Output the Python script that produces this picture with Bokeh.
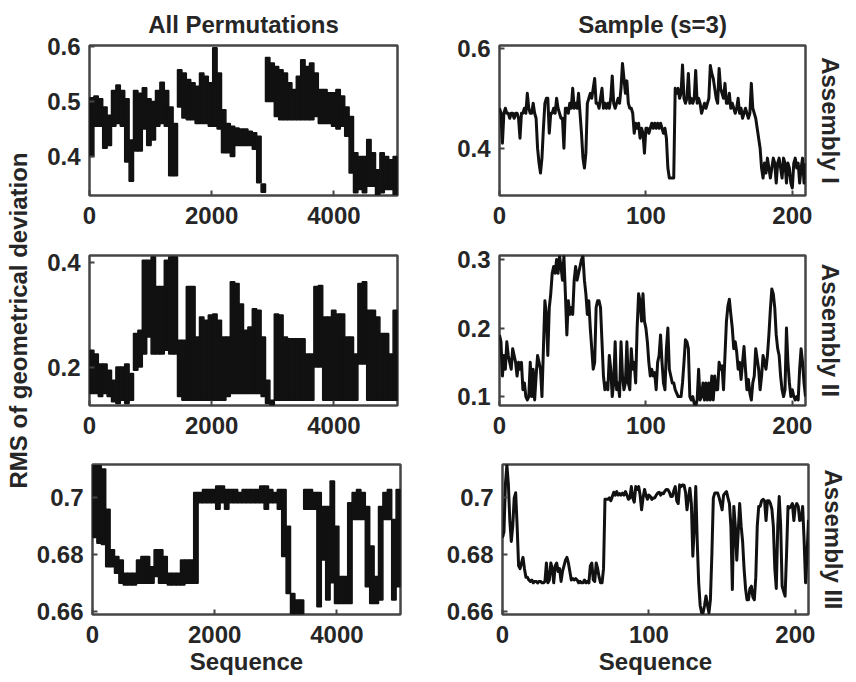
import numpy as np
from bokeh.plotting import figure
from bokeh.models import Range1d, FixedTicker, Title, Label
from bokeh.layouts import column, row
from bokeh.embed import file_html
from bokeh.resources import INLINE

# ---------------- data ----------------
col_titles = ["All Permutations", "Sample (s=3)"]
row_titles = ["Assembly I", "Assembly II", "Assembly III"]
y_title = "RMS of geometrical deviation"
x_title = "Sequence"

n_all = 5040          # all permutations
bin_width = 72        # envelope bin width (sequence units) for the full sequence
n_sample = 210        # sampled permutations

# Assembly I - all permutations: envelope (max / min) per bin
a1_hi = [0.507, 0.51, 0.505, 0.49, 0.475, 0.52, 0.53, 0.52, 0.505, 0.43,
         0.52, 0.515, 0.525, 0.505, 0.50, 0.52, 0.535, 0.52, 0.49, 0.46,
         0.558, 0.552, 0.54, 0.534, 0.528, 0.552, 0.546, 0.534, 0.598, 0.552,
         0.485, 0.46, 0.455, 0.452, 0.45, 0.45, 0.446, 0.443, 0.437, 0.35,
         0.58, 0.57, 0.564, 0.558, 0.552, 0.534, 0.522, 0.546, 0.576, 0.564,
         0.57, 0.552, 0.522, 0.522, 0.516, 0.516, 0.522, 0.51, 0.49, 0.473,
         0.407, 0.40, 0.40, 0.431, 0.407, 0.376, 0.407, 0.40, 0.394, 0.40]
a1_lo = [0.40, 0.455, 0.455, 0.415, 0.42, 0.455, 0.46, 0.455, 0.39, 0.355,
         0.41, 0.41, 0.45, 0.42, 0.43, 0.455, 0.46, 0.455, 0.365, 0.365,
         0.49, 0.47, 0.467, 0.467, 0.46, 0.46, 0.46, 0.455, 0.455, 0.45,
         0.407, 0.407, 0.40, 0.42, 0.42, 0.42, 0.42, 0.413, 0.352, 0.335,
         0.50, 0.50, 0.473, 0.467, 0.467, 0.467, 0.467, 0.467, 0.467, 0.467,
         0.467, 0.473, 0.46, 0.46, 0.46, 0.455, 0.45, 0.455, 0.437, 0.37,
         0.334, 0.34, 0.334, 0.346, 0.346, 0.331, 0.334, 0.34, 0.34, 0.331]

# Assembly II - all permutations
a2_hi = [0.233, 0.226, 0.207, 0.207, 0.195, 0.176, 0.201, 0.201, 0.207, 0.189,
         0.265, 0.271, 0.404, 0.404, 0.410, 0.354, 0.354, 0.404, 0.410, 0.410,
         0.252, 0.252, 0.354, 0.354, 0.258, 0.296, 0.290, 0.300, 0.302, 0.290,
         0.258, 0.258, 0.363, 0.360, 0.321, 0.271, 0.277, 0.312, 0.309, 0.258,
         0.176, 0.138, 0.302, 0.300, 0.258, 0.255, 0.255, 0.255, 0.255, 0.226,
         0.226, 0.354, 0.356, 0.296, 0.296, 0.309, 0.302, 0.302, 0.258, 0.258,
         0.226, 0.360, 0.363, 0.309, 0.309, 0.296, 0.265, 0.265, 0.226, 0.309]
a2_lo = [0.151, 0.151, 0.145, 0.151, 0.145, 0.135, 0.132, 0.138, 0.132, 0.138,
         0.195, 0.201, 0.226, 0.258, 0.226, 0.226, 0.226, 0.233, 0.226, 0.226,
         0.145, 0.138, 0.138, 0.138, 0.138, 0.138, 0.138, 0.138, 0.138, 0.138,
         0.138, 0.145, 0.151, 0.151, 0.151, 0.151, 0.151, 0.151, 0.151, 0.145,
         0.132, 0.129, 0.138, 0.138, 0.138, 0.138, 0.138, 0.138, 0.138, 0.138,
         0.138, 0.201, 0.201, 0.138, 0.138, 0.138, 0.138, 0.138, 0.138, 0.138,
         0.138, 0.207, 0.207, 0.138, 0.138, 0.138, 0.138, 0.138, 0.138, 0.138]

# Assembly III - all permutations
a3_hi = [0.7114, 0.7114, 0.7102, 0.696, 0.6817, 0.6793, 0.6781, 0.6734, 0.6734, 0.6734,
         0.6781, 0.6793, 0.6793, 0.6757, 0.6817, 0.6817, 0.6793, 0.6734, 0.6734, 0.6734,
         0.6781, 0.6781, 0.6781, 0.7019, 0.7019, 0.7030, 0.7030, 0.7030, 0.7042, 0.7042,
         0.7030, 0.7030, 0.7030, 0.7019, 0.7030, 0.7030, 0.7030, 0.7030, 0.7042, 0.7042,
         0.7030, 0.7019, 0.7030, 0.7030, 0.6900, 0.6662, 0.6639, 0.6639, 0.7030, 0.7030,
         0.7019, 0.7019, 0.6970, 0.6970, 0.7060, 0.6900, 0.6722, 0.6722, 0.6983, 0.7019,
         0.7030, 0.7019, 0.6970, 0.6830, 0.6722, 0.6970, 0.7019, 0.7030, 0.6924, 0.7030]
a3_lo = [0.686, 0.684, 0.6835, 0.6757, 0.6757, 0.6734, 0.6698, 0.6692, 0.6692, 0.6692,
         0.6698, 0.6698, 0.6698, 0.6698, 0.6722, 0.6698, 0.6698, 0.6692, 0.6692, 0.6692,
         0.6692, 0.6698, 0.6698, 0.6698, 0.6983, 0.6983, 0.6983, 0.6983, 0.6960, 0.6983,
         0.6960, 0.6983, 0.6983, 0.6983, 0.6983, 0.6983, 0.6983, 0.6983, 0.6983, 0.6960,
         0.6983, 0.6983, 0.6960, 0.6793, 0.6662, 0.6591, 0.6591, 0.6591, 0.6960, 0.6960,
         0.6960, 0.6615, 0.6781, 0.6639, 0.6700, 0.6627, 0.6627, 0.6627, 0.6627, 0.6924,
         0.6924, 0.6924, 0.6686, 0.6627, 0.6627, 0.6639, 0.6924, 0.6924, 0.6639, 0.6686]

# Sample (s=3) sequences, 210 values each
s1 = [0.48, 0.47, 0.41, 0.47, 0.48, 0.47, 0.47, 0.46, 0.47, 0.47,
      0.46, 0.47, 0.47, 0.46, 0.42, 0.47, 0.47, 0.48, 0.47, 0.51,
      0.48, 0.47, 0.47, 0.49, 0.47, 0.46, 0.40, 0.37, 0.35, 0.38,
      0.44, 0.49, 0.50, 0.50, 0.43, 0.47, 0.47, 0.48, 0.47, 0.50,
      0.48, 0.47, 0.46, 0.46, 0.40, 0.48, 0.48, 0.47, 0.49, 0.48,
      0.52, 0.48, 0.49, 0.48, 0.51, 0.47, 0.43, 0.38, 0.36, 0.39,
      0.49, 0.50, 0.51, 0.50, 0.52, 0.54, 0.49, 0.49, 0.48, 0.50,
      0.52, 0.48, 0.49, 0.48, 0.49, 0.48, 0.50, 0.545, 0.49, 0.48,
      0.49, 0.50, 0.49, 0.52, 0.57, 0.54, 0.51, 0.535, 0.49, 0.48,
      0.48, 0.47, 0.43, 0.45, 0.44, 0.45, 0.42, 0.44, 0.43, 0.39,
      0.44, 0.44, 0.43, 0.44, 0.45, 0.44, 0.45, 0.44, 0.45, 0.44,
      0.45, 0.44, 0.43, 0.44, 0.42, 0.36, 0.34, 0.34, 0.34, 0.34,
      0.52, 0.51, 0.52, 0.50, 0.51, 0.567, 0.50, 0.49, 0.50, 0.55,
      0.49, 0.50, 0.49, 0.50, 0.556, 0.49, 0.50, 0.49, 0.47, 0.48,
      0.49, 0.48, 0.49, 0.50, 0.566, 0.55, 0.54, 0.52, 0.50, 0.49,
      0.56, 0.52, 0.51, 0.50, 0.53, 0.49, 0.49, 0.51, 0.48, 0.49,
      0.48, 0.47, 0.48, 0.50, 0.47, 0.48, 0.46, 0.47, 0.48, 0.47,
      0.46, 0.47, 0.53, 0.48, 0.47, 0.46, 0.44, 0.42, 0.40, 0.36,
      0.34, 0.37, 0.35, 0.38, 0.36, 0.34, 0.36, 0.38, 0.37, 0.33,
      0.37, 0.38, 0.36, 0.34, 0.38, 0.37, 0.33, 0.37, 0.36, 0.33,
      0.32, 0.37, 0.38, 0.36, 0.37, 0.33, 0.36, 0.38, 0.33, 0.37]
s2 = [0.19, 0.18, 0.13, 0.16, 0.14, 0.18, 0.16, 0.15, 0.14, 0.17,
      0.16, 0.15, 0.13, 0.15, 0.14, 0.15, 0.11, 0.12, 0.10, 0.095,
      0.10, 0.15, 0.10, 0.14, 0.095, 0.13, 0.16, 0.15, 0.14, 0.10,
      0.17, 0.24, 0.22, 0.16, 0.23, 0.25, 0.28, 0.29, 0.28, 0.30,
      0.28, 0.305, 0.29, 0.27, 0.305, 0.25, 0.19, 0.24, 0.22, 0.23,
      0.22, 0.27, 0.29, 0.27, 0.28, 0.29, 0.30, 0.305, 0.27, 0.25,
      0.22, 0.24, 0.20, 0.17, 0.14, 0.15, 0.23, 0.24, 0.24, 0.23,
      0.18, 0.13, 0.11, 0.12, 0.11, 0.16, 0.14, 0.10, 0.12, 0.18,
      0.11, 0.12, 0.10, 0.18, 0.13, 0.11, 0.12, 0.18, 0.12, 0.11,
      0.17, 0.14, 0.15, 0.12, 0.20, 0.25, 0.24, 0.21, 0.25, 0.21,
      0.20, 0.18, 0.15, 0.13, 0.14, 0.13, 0.135, 0.11, 0.15, 0.16,
      0.19, 0.15, 0.12, 0.11, 0.17, 0.20, 0.14, 0.13, 0.12, 0.12,
      0.11, 0.105, 0.10, 0.10, 0.10, 0.12, 0.15, 0.183, 0.18, 0.17,
      0.10, 0.095, 0.10, 0.09, 0.086, 0.095, 0.14, 0.095, 0.10, 0.12,
      0.095, 0.12, 0.095, 0.12, 0.095, 0.13, 0.095, 0.13, 0.11, 0.11,
      0.15, 0.14, 0.145, 0.11, 0.16, 0.21, 0.232, 0.242, 0.22, 0.20,
      0.17, 0.18, 0.165, 0.14, 0.15, 0.125, 0.15, 0.173, 0.14, 0.11,
      0.125, 0.105, 0.095, 0.12, 0.13, 0.17, 0.155, 0.14, 0.11, 0.13,
      0.16, 0.15, 0.14, 0.16, 0.19, 0.227, 0.257, 0.25, 0.23, 0.19,
      0.17, 0.16, 0.13, 0.11, 0.10, 0.11, 0.20, 0.15, 0.12, 0.10,
      0.11, 0.10, 0.095, 0.10, 0.095, 0.14, 0.17, 0.15, 0.12, 0.10]
s3 = [0.686, 0.688, 0.705, 0.7116, 0.705, 0.692, 0.6846, 0.690, 0.700, 0.7018,
      0.690, 0.676, 0.675, 0.677, 0.679, 0.675, 0.672, 0.672, 0.671, 0.6705,
      0.671, 0.670, 0.6705, 0.6705, 0.670, 0.6705, 0.6705, 0.670, 0.670, 0.6705,
      0.677, 0.670, 0.671, 0.677, 0.675, 0.670, 0.676, 0.677, 0.674, 0.675,
      0.6705, 0.674, 0.676, 0.678, 0.679, 0.677, 0.674, 0.671, 0.6715, 0.671,
      0.6715, 0.671, 0.670, 0.6705, 0.670, 0.670, 0.671, 0.670, 0.6705, 0.670,
      0.676, 0.677, 0.671, 0.6705, 0.677, 0.675, 0.672, 0.670, 0.670, 0.675,
      0.6995, 0.6995, 0.6995, 0.700, 0.699, 0.7005, 0.702, 0.701, 0.7022, 0.701,
      0.7015, 0.701, 0.7017, 0.701, 0.7022, 0.701, 0.6995, 0.700, 0.704, 0.700,
      0.6985, 0.704, 0.703, 0.704, 0.701, 0.6958, 0.700, 0.703, 0.701, 0.6995,
      0.701, 0.7005, 0.6995, 0.700, 0.700, 0.701, 0.7017, 0.702, 0.701, 0.7017,
      0.7015, 0.7025, 0.703, 0.7029, 0.702, 0.7005, 0.7005, 0.7025, 0.704, 0.699,
      0.698, 0.7046, 0.704, 0.7046, 0.7045, 0.702, 0.6958, 0.700, 0.7034, 0.698,
      0.6794, 0.690, 0.704, 0.6846, 0.670, 0.662, 0.6594, 0.6594, 0.662, 0.6653,
      0.662, 0.6594, 0.664, 0.680, 0.700, 0.7017, 0.7017, 0.7017, 0.700, 0.698,
      0.6958, 0.701, 0.7017, 0.7022, 0.700, 0.698, 0.690, 0.6676, 0.697, 0.690,
      0.678, 0.688, 0.698, 0.690, 0.6846, 0.675, 0.668, 0.664, 0.664, 0.668,
      0.6688, 0.665, 0.664, 0.672, 0.690, 0.697, 0.697, 0.699, 0.6995, 0.699,
      0.692, 0.699, 0.699, 0.698, 0.696, 0.690, 0.675, 0.668, 0.690, 0.7005,
      0.690, 0.6688, 0.667, 0.6653, 0.680, 0.697, 0.6965, 0.697, 0.698, 0.692,
      0.697, 0.698, 0.697, 0.692, 0.6923, 0.697, 0.685, 0.670, 0.680, 0.6923]

all_x_ticks = [0, 2000, 4000]
sample_x_ticks = [0, 100, 200]
all_y_ticks = [[0.4, 0.5, 0.6], [0.2, 0.4], [0.66, 0.68, 0.7]]
sample_y_ticks = [[0.4, 0.6], [0.1, 0.2, 0.3], [0.66, 0.68, 0.7]]
all_y_ranges = [(0.329, 0.602), (0.128, 0.413), (0.6588, 0.7118)]
sample_y_ranges = [(0.305, 0.606), (0.087, 0.306), (0.6588, 0.7118)]

all_hi = [a1_hi, a2_hi, a3_hi]
all_lo = [a1_lo, a2_lo, a3_lo]
samples = [s1, s2, s3]

# ---------------- style ----------------
FONT = "Liberation Sans"
TXT = "#262626"
FRAME = "#454545"
INK = "#111111"
FS = "24px"

LABEL_W = 33          # width of the strip carrying the shared y label
TOTAL_H = 682


def fmt(v):
    return "%g" % v


def base_fig(xr, yr, xticks, yticks, fw, mbl, mbr, mbt, mbb):
    p = figure(frame_width=fw, frame_height=150,
               x_range=Range1d(*xr), y_range=Range1d(*yr),
               min_border_left=mbl, min_border_right=mbr,
               min_border_top=mbt, min_border_bottom=mbb,
               output_backend="svg", toolbar_location=None, tools="")
    p.grid.visible = False
    p.outline_line_color = FRAME
    p.outline_line_width = 2.5
    p.background_fill_color = "white"
    p.border_fill_color = "white"
    for ax, ticks in ((p.xaxis, xticks), (p.yaxis, yticks)):
        ax.ticker = FixedTicker(ticks=ticks)
        ax.major_label_overrides = {t: fmt(t) for t in ticks}
        ax.axis_line_color = None
        ax.major_tick_in = 5
        ax.major_tick_out = 0
        ax.major_tick_line_color = FRAME
        ax.major_tick_line_width = 2
        ax.minor_tick_line_color = None
        ax.major_label_text_font = FONT
        ax.major_label_text_font_style = "bold"
        ax.major_label_text_font_size = FS
        ax.major_label_text_color = TXT
        ax.axis_label_text_font = FONT
        ax.axis_label_text_font_style = "bold"
        ax.axis_label_text_font_size = FS
        ax.axis_label_text_color = TXT
    p.xaxis.major_label_standoff = 11
    p.yaxis.major_label_standoff = 9
    return p


# strip with the shared y-axis title
lab = figure(width=LABEL_W, height=TOTAL_H, x_range=Range1d(0, LABEL_W),
             y_range=Range1d(0, TOTAL_H), x_axis_location=None, y_axis_location=None,
             min_border=0, output_backend="svg", toolbar_location=None, tools="")
lab.grid.visible = False
lab.outline_line_color = None
lab.add_layout(Label(x=18, y=TOTAL_H - 320, text=y_title, angle=np.pi / 2,
                     text_align="center", text_baseline="middle", text_font=FONT,
                     text_font_style="bold", text_font_size=FS, text_color=TXT))

tops = [45, 15, 15]
bottoms = [45, 44, 68]
rows = []
for r in range(3):
    # left: all permutations (envelope per bin)
    pl = base_fig((0, n_all), all_y_ranges[r], all_x_ticks, all_y_ticks[r],
                  308, 89 - LABEL_W, 21, tops[r], bottoms[r])
    starts = np.arange(len(all_hi[r])) * bin_width
    pl.quad(left=starts, right=starts + bin_width, bottom=all_lo[r], top=all_hi[r],
            fill_color=INK, line_color=INK, line_width=1.5)
    # right: sample
    pr = base_fig((0, n_sample - 1), sample_y_ranges[r], sample_x_ticks, sample_y_ticks[r],
                  306, 81, 51, tops[r], bottoms[r])
    pr.line(x=np.arange(n_sample), y=samples[r], line_width=3, line_color=INK,
            line_join="round")
    t = Title(text=row_titles[r], align="center", text_font=FONT, text_font_style="bold",
              text_font_size=FS, text_color=TXT, standoff=22)
    pr.add_layout(t, "right")
    if r == 0:
        for p, tt in ((pl, col_titles[0]), (pr, col_titles[1])):
            p.title.text = tt
            p.title.align = "center"
            p.title.text_font = FONT
            p.title.text_font_style = "bold"
            p.title.text_font_size = FS
            p.title.text_color = TXT
            p.title.standoff = 15
    if r == 2:
        for p in (pl, pr):
            p.xaxis.axis_label = x_title
            p.xaxis.axis_label_standoff = 2
    rows.append(row(pl, pr))

layout = row(lab, column(*rows))
open("out.html", "w").write(file_html(layout, INLINE))
